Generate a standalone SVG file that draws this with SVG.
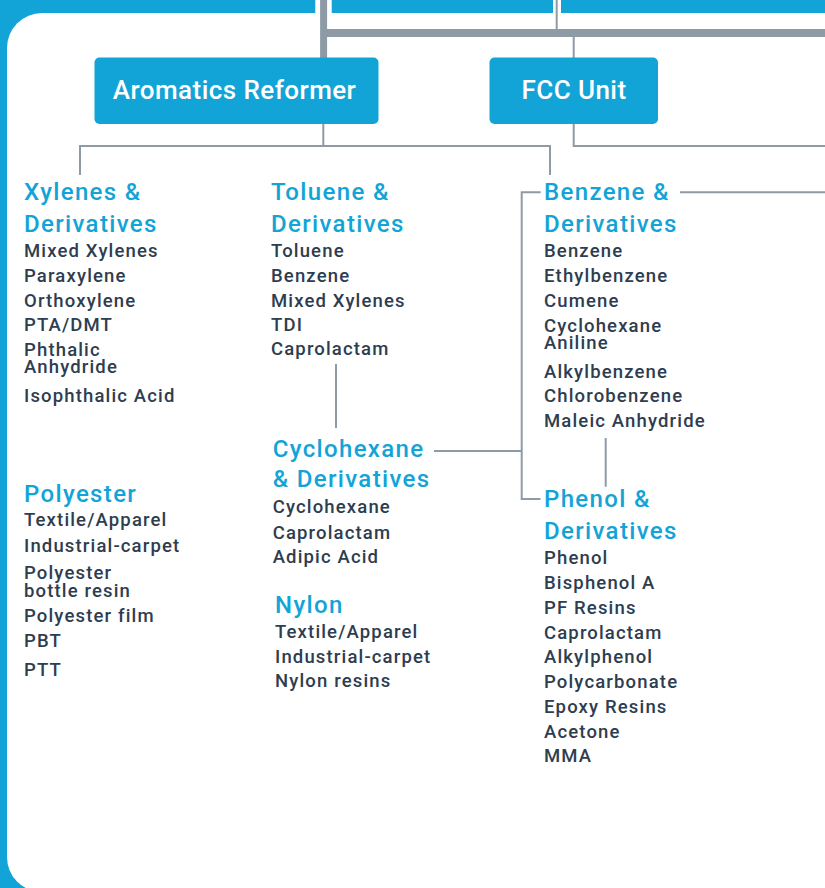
<svg xmlns="http://www.w3.org/2000/svg" width="825" height="888" viewBox="0 0 825 888">
<style>
.bg{fill:#12a4d7}
.box{fill:#12a4d7}
.bl{font-family:Roboto,"Liberation Sans",sans-serif;font-size:26px;font-weight:500;fill:#fff;text-anchor:middle;letter-spacing:0.45px}
.h{font-family:Roboto,"Liberation Sans",sans-serif;font-size:24px;font-weight:500;fill:#12a4d7;letter-spacing:1.35px}
.t{font-family:Roboto,"Liberation Sans",sans-serif;font-size:18.5px;font-weight:500;fill:#2e3d4f;letter-spacing:1.15px}
.c{fill:none;stroke:#8e9ba7;stroke-width:2}
.ck{fill:none;stroke:#8e9ba7}
</style>
<rect class="bg" x="0" y="0" width="825" height="888"/>
<rect x="7" y="13" width="900" height="879" rx="35" ry="35" fill="#fff"/>
<rect x="315.3" y="0" width="16.4" height="13" fill="#fff"/>
<rect x="553" y="0" width="8" height="13" fill="#fff"/>
<g id="connectors">
<path class="ck" stroke-width="7" d="M323.6,0 V58"/>
<path class="ck" stroke-width="8" d="M327,33 H825"/>
<path class="c" d="M556.7,0 V30"/>
<path class="c" d="M573.7,36 V58"/>
<path class="c" d="M323.3,124 V146 M80,146 H550 M80,145 V175 M550,145 V175"/>
<path class="c" d="M573.7,124 V146 H825"/>
<path class="c" d="M540.7,192.3 H521.7 V499 H540.5"/>
<path class="c" d="M680,192.3 H825"/>
<path class="c" d="M434,451 H521.7"/>
<path class="c" d="M336,364 V428"/>
<path class="c" d="M605.7,438 V486.7"/>
</g>
<g id="aromatics-reformer">
<rect class="box" x="94.5" y="57.5" width="284" height="66.5" rx="5"/>
<text class="bl" x="234.5" y="98.5">Aromatics Reformer</text>
</g>
<g id="fcc-unit">
<rect class="box" x="489.5" y="57.5" width="168.5" height="66.5" rx="5"/>
<text class="bl" x="574" y="98.5">FCC Unit</text>
</g>
<g id="xylenes">
<text class="h" x="24" y="200">Xylenes &amp;</text>
<text class="h" x="24" y="231.5">Derivatives</text>
<text class="t" x="24" y="256.7">Mixed Xylenes</text>
<text class="t" x="24" y="281.7">Paraxylene</text>
<text class="t" x="24" y="306.6">Orthoxylene</text>
<text class="t" x="24" y="331">PTA/DMT</text>
<text class="t" x="24" y="355.7">Phthalic</text>
<text class="t" x="24" y="373.3">Anhydride</text>
<text class="t" x="24" y="402.3">Isophthalic Acid</text>
</g>
<g id="polyester">
<text class="h" x="24" y="501.7">Polyester</text>
<text class="t" x="24" y="526">Textile/Apparel</text>
<text class="t" x="24" y="551.7">Industrial-carpet</text>
<text class="t" x="24" y="579.3">Polyester</text>
<text class="t" x="24" y="596.7">bottle resin</text>
<text class="t" x="24" y="622.3">Polyester film</text>
<text class="t" x="24" y="646.7">PBT</text>
<text class="t" x="24" y="676">PTT</text>
</g>
<g id="toluene">
<text class="h" x="271" y="200">Toluene &amp;</text>
<text class="h" x="271" y="231.5">Derivatives</text>
<text class="t" x="271" y="256.7">Toluene</text>
<text class="t" x="271" y="281.7">Benzene</text>
<text class="t" x="271" y="306.7">Mixed Xylenes</text>
<text class="t" x="271" y="331.3">TDI</text>
<text class="t" x="271" y="355.3">Caprolactam</text>
</g>
<g id="cyclohexane">
<text class="h" x="272.7" y="456.7">Cyclohexane</text>
<text class="h" x="272.7" y="487.3">&amp; Derivatives</text>
<text class="t" x="272.7" y="513.3">Cyclohexane</text>
<text class="t" x="272.7" y="539">Caprolactam</text>
<text class="t" x="272.7" y="562.7">Adipic Acid</text>
</g>
<g id="nylon">
<text class="h" x="275" y="613.3">Nylon</text>
<text class="t" x="275" y="637.7">Textile/Apparel</text>
<text class="t" x="275" y="662.7">Industrial-carpet</text>
<text class="t" x="275" y="686.7">Nylon resins</text>
</g>
<g id="benzene">
<text class="h" x="544" y="199.5">Benzene &amp;</text>
<text class="h" x="544" y="231.7">Derivatives</text>
<text class="t" x="544" y="256.7">Benzene</text>
<text class="t" x="544" y="281.7">Ethylbenzene</text>
<text class="t" x="544" y="306.7">Cumene</text>
<text class="t" x="544" y="331.7">Cyclohexane</text>
<text class="t" x="544" y="349">Aniline</text>
<text class="t" x="544" y="378.3">Alkylbenzene</text>
<text class="t" x="544" y="402.3">Chlorobenzene</text>
<text class="t" x="544" y="427.3">Maleic Anhydride</text>
</g>
<g id="phenol">
<text class="h" x="544" y="507.3">Phenol &amp;</text>
<text class="h" x="544" y="539">Derivatives</text>
<text class="t" x="544" y="564">Phenol</text>
<text class="t" x="544" y="589">Bisphenol A</text>
<text class="t" x="544" y="614">PF Resins</text>
<text class="t" x="544" y="639">Caprolactam</text>
<text class="t" x="544" y="663.3">Alkylphenol</text>
<text class="t" x="544" y="688.3">Polycarbonate</text>
<text class="t" x="544" y="713.3">Epoxy Resins</text>
<text class="t" x="544" y="738">Acetone</text>
<text class="t" x="544" y="762.3">MMA</text>
</g>
</svg>
